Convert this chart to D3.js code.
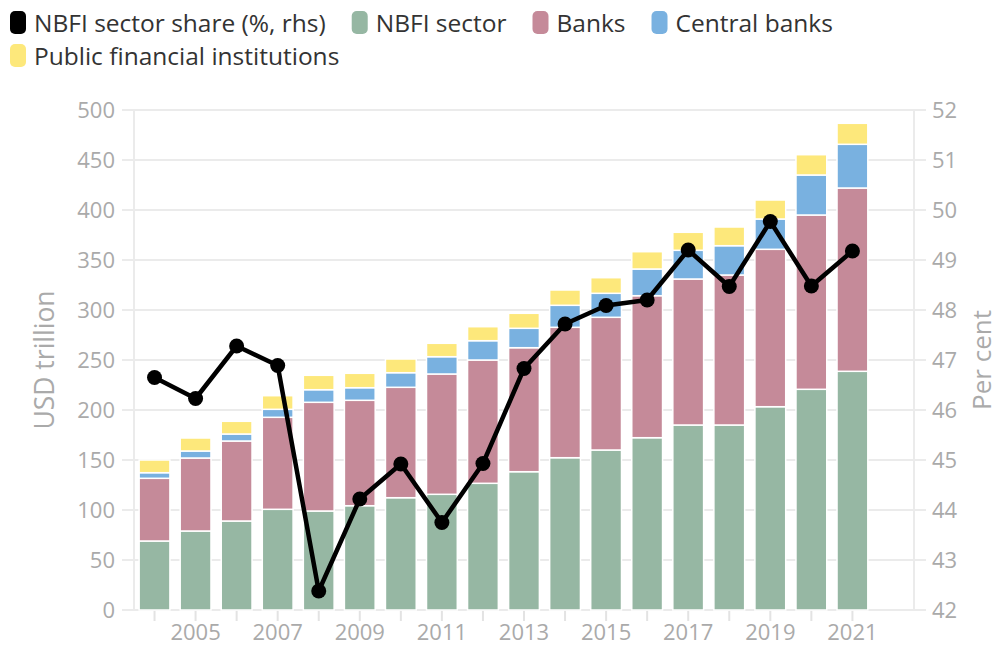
<!DOCTYPE html>
<html>
<head>
<meta charset="utf-8">
<script src="https://cdn.jsdelivr.net/npm/d3@7"></script>
<style>
  body { margin: 0; background: #fff; font-family: "Open Sans", sans-serif; }
</style>
</head>
<body>
<div id="chart"></div>
<script>
var w = 997;
var h = 645;

var years = [2004, 2005, 2006, 2007, 2008, 2009, 2010, 2011, 2012, 2013, 2014, 2015, 2016, 2017, 2018, 2019, 2020, 2021];
var nbfi = [69, 79, 89, 100.7, 99, 104.3, 112.3, 115.7, 126.7, 138.3, 152.3, 160, 172.3, 185, 185, 203.3, 220.7, 238.7];
var banks = [62.7, 73, 80, 92, 108.7, 105.4, 110.4, 120.3, 123.3, 124, 130.4, 132.7, 142, 146, 150, 157.4, 174.3, 183.3];
var central = [5.6, 7, 7, 8, 12.6, 12.6, 14.6, 17.3, 19.3, 19.4, 22, 24, 26.7, 28.7, 29.3, 30.3, 40, 43.7];
var pfi = [12.7, 13, 12.7, 13.6, 14.4, 14.4, 13.7, 13.4, 14, 15, 15.3, 15.6, 17.3, 18, 18.7, 19, 20.3, 21];
var share = [46.65, 46.23, 47.28, 46.89, 42.38, 44.22, 44.92, 43.75, 44.93, 46.83, 47.72, 48.09, 48.2, 49.2, 48.47, 49.77, 48.48, 49.18];

var leftTicks = [0, 50, 100, 150, 200, 250, 300, 350, 400, 450, 500];
var rightTicks = [42, 43, 44, 45, 46, 47, 48, 49, 50, 51, 52];
var xLabels = [2005, 2007, 2009, 2011, 2013, 2015, 2017, 2019, 2021];

var keys = ["nbfi", "banks", "central", "pfi"];
var colors = {nbfi: "#96b7a3", banks: "#c58a99", central: "#79b1e0", pfi: "#fde87b"};

var legendItems = [
  {name: "NBFI sector share (%, rhs)", color: "#000000"},
  {name: "NBFI sector", color: colors.nbfi},
  {name: "Banks", color: colors.banks},
  {name: "Central banks", color: colors.central},
  {name: "Public financial institutions", color: colors.pfi}
];

var mLeft = 134, mRight = 914, mTop = 110, mBottom = 610;

var data = years.map(function(y, i) {
  return {year: y, nbfi: nbfi[i], banks: banks[i], central: central[i], pfi: pfi[i], share: share[i]};
});

var xScale = d3.scaleLinear().domain([2003.5, 2022.5]).range([mLeft, mRight]);
var yScale = d3.scaleLinear().domain([0, 500]).range([mBottom, mTop]);
var y2Scale = d3.scaleLinear().domain([42, 52]).range([mBottom, mTop]);
var step = xScale(1) - xScale(0);
var barW = step * 0.75;

var stack = d3.stack().keys(keys)(data);

var svg = d3.select("#chart").append("svg")
  .attr("width", w)
  .attr("height", h);

// gridlines
svg.append("g").selectAll("line")
  .data(leftTicks)
  .enter().append("line")
  .attr("x1", mLeft - 12)
  .attr("x2", mRight + 12)
  .attr("y1", function(d) { return yScale(d); })
  .attr("y2", function(d) { return yScale(d); })
  .attr("stroke", "#ebebeb")
  .attr("stroke-width", 2);

// vertical axis lines
svg.append("g").selectAll("line")
  .data([mLeft, mRight])
  .enter().append("line")
  .attr("x1", function(d) { return d; })
  .attr("x2", function(d) { return d; })
  .attr("y1", mTop)
  .attr("y2", mBottom)
  .attr("stroke", "#ebebeb")
  .attr("stroke-width", 2);

// x ticks
svg.append("g").selectAll("line")
  .data(years)
  .enter().append("line")
  .attr("x1", function(d) { return xScale(d); })
  .attr("x2", function(d) { return xScale(d); })
  .attr("y1", mBottom)
  .attr("y2", mBottom + 11)
  .attr("stroke", "#e3e3e3")
  .attr("stroke-width", 2);

// left tick labels
svg.append("g").selectAll("text")
  .data(leftTicks)
  .enter().append("text")
  .text(function(d) { return d; })
  .attr("x", mLeft - 19)
  .attr("y", function(d) { return yScale(d) + 7.5; })
  .attr("text-anchor", "end")
  .attr("font-size", "22px")
  .attr("fill", "#aaaaaa");

// right tick labels
svg.append("g").selectAll("text")
  .data(rightTicks)
  .enter().append("text")
  .text(function(d) { return d; })
  .attr("x", mRight + 18)
  .attr("y", function(d) { return y2Scale(d) + 7.5; })
  .attr("font-size", "22px")
  .attr("fill", "#aaaaaa");

// x labels
svg.append("g").selectAll("text")
  .data(xLabels)
  .enter().append("text")
  .text(function(d) { return d; })
  .attr("x", function(d) { return xScale(d); })
  .attr("y", 640)
  .attr("text-anchor", "middle")
  .attr("font-size", "22px")
  .attr("fill", "#aaaaaa");

// axis titles
svg.append("text")
  .text("USD trillion")
  .attr("transform", "translate(54," + (mTop + mBottom) / 2 + ") rotate(-90)")
  .attr("text-anchor", "middle")
  .attr("font-size", "26.5px")
  .attr("fill", "#aaaaaa");

svg.append("text")
  .text("Per cent")
  .attr("transform", "translate(991," + (mTop + mBottom) / 2 + ") rotate(-90)")
  .attr("text-anchor", "middle")
  .attr("font-size", "26px")
  .attr("fill", "#aaaaaa");

// stacked bars
svg.append("g").selectAll("g")
  .data(stack)
  .enter().append("g")
  .attr("fill", function(d) { return colors[d.key]; })
  .selectAll("rect")
  .data(function(d) { return d; })
  .enter().append("rect")
  .attr("x", function(d) { return xScale(d.data.year) - barW / 2; })
  .attr("y", function(d) { return yScale(d[1]); })
  .attr("width", barW)
  .attr("height", function(d) { return yScale(d[0]) - yScale(d[1]); })
  .attr("stroke", "#ffffff")
  .attr("stroke-width", 1.5);

// share line
var line = d3.line()
  .x(function(d) { return xScale(d.year); })
  .y(function(d) { return y2Scale(d.share); });

svg.append("path")
  .datum(data)
  .attr("d", line)
  .attr("fill", "none")
  .attr("stroke", "#000")
  .attr("stroke-width", 4.5)
  .attr("stroke-linejoin", "round");

svg.append("g").selectAll("circle")
  .data(data)
  .enter().append("circle")
  .attr("cx", function(d) { return xScale(d.year); })
  .attr("cy", function(d) { return y2Scale(d.share); })
  .attr("r", 7.5)
  .attr("fill", "#000");

// legend
var lg = svg.append("g");
var lx = 10, ly = 0, rowH = 33;
legendItems.forEach(function(item) {
  var g = lg.append("g");
  g.append("rect")
    .attr("x", 0).attr("y", 11)
    .attr("width", 16).attr("height", 23)
    .attr("rx", 5)
    .attr("fill", item.color);
  var t = g.append("text")
    .text(item.name)
    .attr("x", 24).attr("y", 32)
    .attr("font-size", "24.5px")
    .attr("fill", "#333333");
  var tw = 24 + t.node().getComputedTextLength();
  if (lx + tw > 990) { lx = 10; ly += rowH; }
  g.attr("transform", "translate(" + lx + "," + ly + ")");
  lx += tw + 26;
});
</script>
</body>
</html>
